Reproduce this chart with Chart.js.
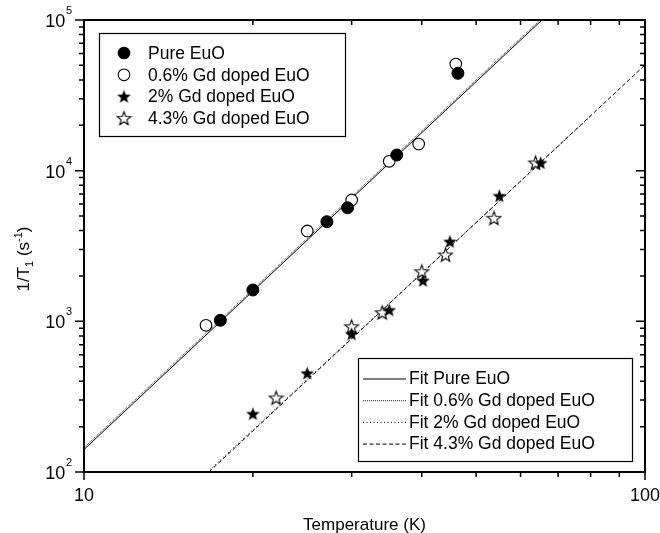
<!DOCTYPE html>
<html>
<head>
<meta charset="utf-8">
<script src="https://cdn.jsdelivr.net/npm/chart.js@4"></script>
<style>
  html, body { margin: 0; padding: 0; background: #fff; }
  canvas { display: block; }
</style>
</head>
<body>
<canvas id="t1Chart" width="660" height="533"></canvas>
<script>
const pureT = [17.5, 20.0, 27.1, 29.5, 36.1, 46.4];
const pureRate = [1016, 1614, 4584, 5670, 12700, 44300];
const gd06T = [16.5, 25.0, 30.0, 35.0, 39.5, 46.0];
const gd06Rate = [941, 3980, 6390, 11540, 15030, 51000];
const gd2T = [20, 25, 30, 35, 40.2, 44.9, 55, 65.2];
const gd2Rate = [243, 452, 824, 1189, 1862, 3378, 6792, 11250];
const gd43T = [22, 30, 34, 40, 44.1, 53.8, 63.8];
const gd43Rate = [310, 921, 1141, 2135, 2756, 4830, 11250];

// fit lines are straight in log-log, so only their end points are needed
const fitPureT = [10, 65.5];
const fitPureRate = [141, 100000];
const fit06T = [10, 65];
const fit06Rate = [145, 100000];
const fit2T = [16.6, 80];
const fit2Rate = [100, 23000];
const fit43T = [16.7, 100];
const fit43Rate = [100, 50300];

const seriesNames = ["Pure EuO", "0.6% Gd doped EuO", "2% Gd doped EuO", "4.3% Gd doped EuO"];
const fitNames = ["Fit Pure EuO", "Fit 0.6% Gd doped EuO", "Fit 2% Gd doped EuO", "Fit 4.3% Gd doped EuO"];
const xTickLabels = [10, 100];
const yTickExps = [2, 3, 4, 5];

const FONT = '"Liberation Sans", Arial, sans-serif';
const pts = (xs, ys) => xs.map((x, i) => ({ x: x, y: ys[i] }));

function starPath(g, cx, cy, ro, ri) {
    g.beginPath();
    for (let i = 0; i < 10; i++) {
        const r = i % 2 ? ri : ro;
        const a = -Math.PI / 2 + i * Math.PI / 5;
        const px = cx + r * Math.cos(a), py = cy + r * Math.sin(a);
        if (i) g.lineTo(px, py); else g.moveTo(px, py);
    }
    g.closePath();
}

function makeStar(filled) {
    const c = document.createElement("canvas");
    c.width = 17; c.height = 17;
    const g = c.getContext("2d");
    starPath(g, 8.5, 9, 7.2, 3);
    if (filled) {
        g.fillStyle = "#000"; g.fill();
    } else {
        g.fillStyle = "#fff"; g.fill();
        g.lineWidth = 1.1; g.strokeStyle = "#000"; g.stroke();
    }
    return c;
}

const fullStar = makeStar(true);
const openStar = makeStar(false);

const fitStyles = [
    { dash: [], color: "#000" },
    { dash: [1, 1], color: "#222" },
    { dash: [1, 2.5], color: "#000" },
    { dash: [4, 2.5], color: "#000" }
];

function fitSet(i, xs, ys) {
    return {
        label: fitNames[i], data: pts(xs, ys), showLine: true, pointRadius: 0,
        borderColor: fitStyles[i].color, borderWidth: 1, borderDash: fitStyles[i].dash, fill: false
    };
}

const datasets = [
    { label: seriesNames[0], data: pts(pureT, pureRate), pointStyle: "circle", pointRadius: 6,
      backgroundColor: "#000", borderColor: "#000", borderWidth: 1 },
    { label: seriesNames[1], data: pts(gd06T, gd06Rate), pointStyle: "circle", pointRadius: 5.8,
      backgroundColor: "#fff", borderColor: "#000", borderWidth: 1.1 },
    { label: seriesNames[2], data: pts(gd2T, gd2Rate), pointStyle: fullStar },
    { label: seriesNames[3], data: pts(gd43T, gd43Rate), pointStyle: openStar },
    fitSet(0, fitPureT, fitPureRate),
    fitSet(1, fit06T, fit06Rate),
    fitSet(2, fit2T, fit2Rate),
    fitSet(3, fit43T, fit43Rate)
];

function drawMarker(ctx, i, x, y) {
    if (i < 2) {
        ctx.beginPath();
        ctx.arc(x, y, 5.8, 0, Math.PI * 2);
        ctx.fillStyle = i === 0 ? "#000" : "#fff";
        ctx.fill();
        ctx.lineWidth = 1.1; ctx.strokeStyle = "#000";
        ctx.stroke();
    } else {
        const img = i === 2 ? fullStar : openStar;
        ctx.drawImage(img, x - img.width / 2, y - img.height / 2);
    }
}

const framePlugin = {
    id: "frame",
    afterDraw(chart) {
        const { ctx, chartArea: a } = chart;
        const xs = chart.scales.x, ys = chart.scales.y;
        ctx.save();
        ctx.strokeStyle = "#000";
        ctx.lineWidth = 2;
        ctx.strokeRect(a.left, a.top, a.right - a.left, a.bottom - a.top);

        // x ticks: out on bottom, in on top
        ctx.lineWidth = 1.5;
        ctx.beginPath();
        for (let v = 10; v <= 100; v += 10) {
            const px = xs.getPixelForValue(v);
            const major = v === 10 || v === 100;
            ctx.moveTo(px, a.bottom); ctx.lineTo(px, a.bottom + (major ? 8 : 5));
            ctx.moveTo(px, a.top); ctx.lineTo(px, a.top + (major ? 8 : 5));
        }
        // y ticks: out on left, in on right
        for (let d = 100; d <= 100000; d *= 10) {
            for (let m = 1; m <= 9; m++) {
                const v = d * m;
                if (v > 100000) break;
                const py = ys.getPixelForValue(v);
                const major = m === 1;
                ctx.moveTo(a.left, py); ctx.lineTo(a.left - (major ? 9 : 5), py);
                ctx.moveTo(a.right, py); ctx.lineTo(a.right - (major ? 9 : 5), py);
            }
        }
        ctx.stroke();

        ctx.fillStyle = "#000";
        ctx.textBaseline = "alphabetic";
        // x tick labels
        ctx.font = "18px " + FONT;
        ctx.textAlign = "center";
        xTickLabels.forEach(v => ctx.fillText(String(v), xs.getPixelForValue(v), a.bottom + 29));

        // y tick labels 10^n
        yTickExps.forEach(e => {
            const py = ys.getPixelForValue(Math.pow(10, e));
            const end = a.left - 12;
            ctx.font = "11px " + FONT;
            const ew = ctx.measureText(String(e)).width;
            ctx.textAlign = "left";
            ctx.fillText(String(e), end - ew, py - 6);
            ctx.font = "18px " + FONT;
            ctx.textAlign = "right";
            ctx.fillText("10", end - ew - 0.5, py + 7);
        });

        // x title
        ctx.font = "17px " + FONT;
        ctx.textAlign = "center";
        ctx.fillText("Temperature (K)", (a.left + a.right) / 2, 530);

        // y title with sub/superscript
        const parts = [
            { t: "1/T", size: 17, dy: 0 },
            { t: "1", size: 11, dy: 4 },
            { t: " (s", size: 17, dy: 0 },
            { t: "-1", size: 11, dy: -7 },
            { t: ")", size: 17, dy: 0 }
        ];
        let total = 0;
        parts.forEach(p => { ctx.font = p.size + "px " + FONT; p.w = ctx.measureText(p.t).width; total += p.w; });
        ctx.save();
        ctx.translate(23, 259);
        ctx.rotate(-Math.PI / 2);
        ctx.textAlign = "left";
        let cx = -total / 2;
        parts.forEach(p => {
            ctx.font = p.size + "px " + FONT;
            ctx.fillText(p.t, cx, 6 + p.dy);
            cx += p.w;
        });
        ctx.restore();

        // marker legend
        ctx.lineWidth = 1.2;
        ctx.fillStyle = "#fff";
        ctx.fillRect(99, 33, 246, 103);
        ctx.strokeRect(99.5, 33.5, 246, 103);
        ctx.font = "17.5px " + FONT;
        ctx.textAlign = "left";
        ctx.textBaseline = "middle";
        seriesNames.forEach((name, i) => {
            const ry = 53 + i * 21.8;
            drawMarker(ctx, i, 124, ry);
            ctx.fillStyle = "#000";
            ctx.fillText(name, 148, ry + 1);
        });

        // fit legend
        ctx.fillStyle = "#fff";
        ctx.fillRect(358, 358, 274, 103);
        ctx.strokeStyle = "#000";
        ctx.lineWidth = 1.2;
        ctx.strokeRect(358.5, 358.5, 274, 103);
        fitNames.forEach((name, i) => {
            const ry = 378.5 + i * 21.7;
            ctx.beginPath();
            ctx.lineWidth = 1;
            ctx.setLineDash(fitStyles[i].dash);
            ctx.strokeStyle = fitStyles[i].color;
            ctx.moveTo(363, ry + 0.5); ctx.lineTo(406, ry + 0.5);
            ctx.stroke();
            ctx.setLineDash([]);
            ctx.fillStyle = "#000";
            ctx.fillText(name, 409, ry + 1);
        });
        ctx.restore();
    }
};

const t1Chart = new Chart(document.getElementById("t1Chart"), {
    type: "scatter",
    data: { datasets: datasets },
    options: {
        responsive: false,
        animation: false,
        devicePixelRatio: 1,
        layout: { padding: { left: 84, right: 15, top: 20, bottom: 61 } },
        plugins: { legend: { display: false }, tooltip: { enabled: false } },
        elements: { line: { tension: 0 } },
        scales: {
            x: { type: "logarithmic", min: 10, max: 100, display: false },
            y: { type: "logarithmic", min: 100, max: 100000, display: false }
        }
    },
    plugins: [framePlugin]
});
</script>
</body>
</html>
